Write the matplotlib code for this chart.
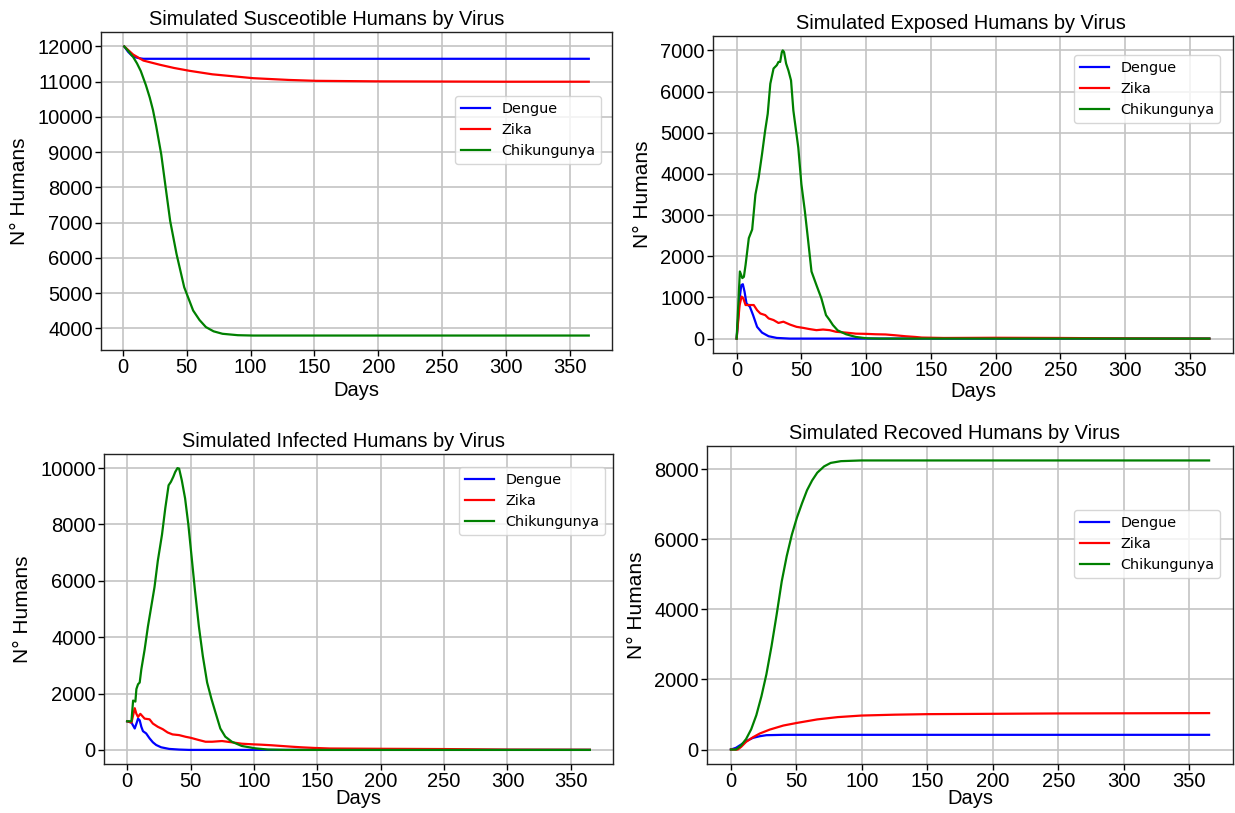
"""Four-panel SEIR-style chart: simulated humans by virus (Dengue, Zika, Chikungunya)."""

import matplotlib

matplotlib.use("Agg")
import matplotlib.pyplot as plt

plt.rcParams["font.family"] = ["Liberation Sans", "DejaVu Sans"]

VIRUSES = ["Dengue", "Zika", "Chikungunya"]
COLORS = ["blue", "red", "green"]

# ------------------------------------------------------------ susceptible
sus_dengue_days = [1, 4, 7, 10, 13, 16, 25, 40, 100, 200, 300, 365]
sus_dengue = [12000, 11850, 11740, 11690, 11665, 11650, 11650, 11650, 11650, 11650, 11650, 11650]

sus_zika_days = [1, 8, 16, 29, 40, 52, 70, 102, 130, 151, 200, 300, 365]
sus_zika = [12000, 11770, 11600, 11480, 11390, 11310, 11210, 11100, 11050, 11025, 11010, 11000, 11000]

sus_chik_days = [1, 4, 8, 11, 14, 18, 21, 23.5, 26, 30, 33.5, 37, 42, 48, 55, 60, 65, 71, 78, 90, 102,
                 150, 200, 300, 365]
sus_chik = [12000, 11880, 11700, 11520, 11300, 10900, 10550, 10200, 9750, 8940, 7990, 7050, 6110, 5170,
            4510, 4240, 4040, 3920, 3850, 3810, 3800, 3800, 3800, 3800, 3800]

# ------------------------------------------------------------ exposed
exp_dengue_days = [0, 2.3, 3.6, 4.8, 6.1, 7.6, 10.2, 12.7, 15.8, 19.6, 24.7, 31, 41, 100, 200, 365]
exp_dengue = [0, 980, 1300, 1320, 1140, 855, 775, 570, 285, 145, 57, 16, 0, 0, 0, 0]

exp_zika_days = [0, 2.3, 3.8, 5.1, 6.9, 9.4, 13.2, 15.8, 18.3, 22.1, 24.7, 28.5, 32.3, 36.1, 41.2, 46.3,
                 51.4, 56.5, 61.6, 66.7, 71.8, 76.8, 84.5, 92.1, 99.7, 107.4, 115, 122.6, 130.3, 137.9,
                 143, 160, 200, 250, 300, 365]
exp_zika = [0, 815, 1020, 980, 815, 815, 815, 690, 610, 570, 490, 450, 380, 410, 340, 285,
            260, 230, 205, 220, 205, 165, 145, 120, 115, 105, 100, 80, 57, 40,
            25, 15, 20, 15, 5, 0]

exp_chik_days = [0, 2.5, 4.4, 5.6, 6.9, 9.4, 12, 14.5, 17, 19.6, 22, 24, 26, 28.5, 31, 32.3, 33.6, 34.9,
                 35.6, 36.6, 38.2, 40, 42, 43.8, 47.6, 50, 52.7, 55, 57.8, 61.6, 65.4, 69, 71.8, 74.3,
                 78, 84.5, 92, 100, 110, 200, 365]
exp_chik = [0, 1630, 1470, 1500, 1790, 2440, 2650, 3500, 3910, 4480, 5050, 5460, 6190, 6560, 6640, 6720,
            6720, 6960, 7000, 6960, 6680, 6510, 6270, 5540, 4640, 3750, 3090, 2440, 1630, 1300, 980, 570,
            450, 330, 200, 105, 40, 8, 0, 0, 0]

# ------------------------------------------------------------ infected
inf_dengue_days = [0, 3.4, 6, 7.3, 8.6, 9.9, 11.2, 12.5, 15, 17.7, 20.3, 22.9, 26.8, 33.2, 41, 48.8, 100, 365]
inf_dengue = [1015, 970, 760, 930, 1110, 1050, 820, 665, 585, 410, 270, 175, 93, 35, 12, 0, 0, 0]

inf_zika_days = [0, 3.4, 6, 7.3, 8.6, 10.4, 12, 13.8, 17.7, 20.3, 24.2, 28.1, 31.9, 35.8, 41, 46.2, 50.1,
                 56.6, 61.8, 67, 74.8, 82.6, 90.4, 98.2, 106, 113.8, 121.6, 129.4, 137.1, 147.5, 160,
                 200, 250, 300, 365]
inf_zika = [1015, 970, 1480, 1280, 1170, 1280, 1200, 1110, 1085, 935, 820, 735, 620, 550, 525, 465, 430,
            350, 290, 290, 315, 270, 220, 200, 185, 165, 140, 115, 93, 70, 50,
            40, 30, 10, 5]

inf_chik_days = [0, 3.4, 4.7, 6.5, 7.3, 8.6, 9.9, 11.2, 13.8, 16.4, 19, 21.6, 24.2, 27.5, 30.1, 32.7, 34.5,
                 36.4, 37.9, 39.7, 41, 43.1, 45.7, 48.3, 50.9, 53.5, 56.6, 59.7, 63.1, 66.5, 69.6, 73.5,
                 77.4, 82.6, 90.4, 100.8, 111, 125, 200, 365]
inf_chik = [1015, 1015, 1750, 1715, 2160, 2330, 2390, 2860, 3560, 4380, 5080, 5780, 6710, 7640, 8580, 9390,
            9510, 9690, 9860, 10000, 9980, 9570, 8930, 7990, 6830, 5660, 4380, 3330, 2390, 1810, 1340, 760,
            470, 290, 140, 58, 12, 0, 0, 0]

# ------------------------------------------------------------ recovered
rec_dengue_days = [0, 3.9, 7.8, 11.6, 16.8, 22, 27.1, 40, 100, 200, 365]
rec_dengue = [0, 50, 143, 240, 333, 380, 410, 420, 420, 420, 420]

rec_zika_days = [0, 5.2, 7.8, 11.6, 16.8, 22, 29.7, 40, 50.4, 65.9, 81.4, 99.5, 125, 150, 200, 250, 365]
rec_zika = [0, 0, 76, 220, 350, 457, 570, 685, 760, 860, 925, 970, 995, 1010, 1020, 1030, 1040]

rec_chik_days = [0, 3.9, 7.8, 11.6, 15.5, 19.4, 23.3, 27.1, 31, 34.9, 38.8, 42.6, 46.5, 50.4, 54.3, 58.1,
                 62, 65.9, 71.1, 76.2, 84, 99.5, 150, 250, 365]
rec_chik = [0, 0, 120, 300, 580, 980, 1520, 2150, 2950, 3850, 4800, 5520, 6130, 6620, 7030, 7400,
            7680, 7900, 8080, 8180, 8230, 8250, 8250, 8250, 8250]

W, H = 1235, 813


def _px_rect(left, top, right, bottom):
    return [left / W, 1 - bottom / H, (right - left) / W, (bottom - top) / H]


PANELS = [
    dict(rect=_px_rect(101, 32, 612, 350), title="Simulated Susceotible Humans by Virus", title_x=0.442,
         series=[(sus_dengue_days, sus_dengue), (sus_zika_days, sus_zika), (sus_chik_days, sus_chik)],
         yticks=range(4000, 12001, 1000), legend_at=(455, 96), xlabelpad=3),
    dict(rect=_px_rect(713, 36, 1233, 353), title="Simulated Exposed Humans by Virus", title_x=0.477,
         series=[(exp_dengue_days, exp_dengue), (exp_zika_days, exp_zika), (exp_chik_days, exp_chik)],
         yticks=range(0, 7001, 1000), legend_at=(1074, 55), xlabelpad=1),
    dict(rect=_px_rect(104, 454, 613, 764), title="Simulated Infected Humans by Virus", title_x=0.470,
         series=[(inf_dengue_days, inf_dengue), (inf_zika_days, inf_zika), (inf_chik_days, inf_chik)],
         yticks=range(0, 10001, 2000), legend_at=(459, 467), xlabelpad=-2),
    dict(rect=_px_rect(707, 446, 1233, 764), title="Simulated Recoved Humans by Virus", title_x=0.471,
         series=[(rec_dengue_days, rec_dengue), (rec_zika_days, rec_zika), (rec_chik_days, rec_chik)],
         yticks=range(0, 8001, 2000), legend_at=(1074, 510), xlabelpad=-2),
]

fig = plt.figure(figsize=(W / 100, H / 100), dpi=100)

for panel in PANELS:
    ax = fig.add_axes(panel["rect"])
    for (xs, ys), name, color in zip(panel["series"], VIRUSES, COLORS):
        ax.plot(xs, ys, color=color, linewidth=1.6, label=name)
    ax.set_xticks(range(0, 351, 50))
    ax.set_yticks(list(panel["yticks"]))
    ax.tick_params(labelsize=14.5, length=4, width=1, colors="black", pad=2)
    ax.grid(color="#c4c4c4", linewidth=1.2)
    ax.set_axisbelow(True)
    for spine in ax.spines.values():
        spine.set_color("#222222")
        spine.set_linewidth(1.0)
    ax.set_title(panel["title"], fontsize=14.4, x=panel["title_x"], pad=5)
    ax.set_xlabel("Days", fontsize=14.5, labelpad=panel["xlabelpad"])
    ax.set_ylabel("N° Humans", fontsize=15, labelpad=6)
    lx, ly = panel["legend_at"]
    ax.legend(loc="upper left", bbox_to_anchor=(lx / W, 1 - ly / H), bbox_transform=fig.transFigure,
              borderaxespad=0, prop={"family": "DejaVu Sans", "size": 10.4})

fig.savefig("out.png", dpi=100)
